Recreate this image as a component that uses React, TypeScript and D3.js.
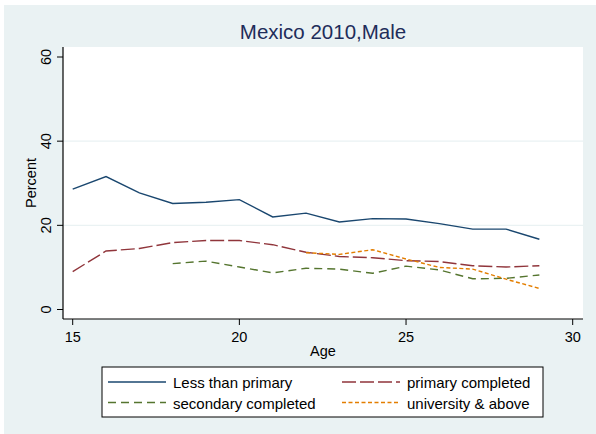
import * as d3 from 'd3';

const ages = [15, 16, 17, 18, 19, 20, 21, 22, 23, 24, 25, 26, 27, 28, 29];
const lessThanPrimary = [28.6, 31.6, 27.7, 25.2, 25.5, 26.1, 22.0, 22.9, 20.8, 21.6, 21.5, 20.4, 19.1, 19.1, 16.7];
const primaryCompleted = [9.0, 13.9, 14.5, 15.9, 16.4, 16.4, 15.4, 13.6, 12.6, 12.3, 11.6, 11.4, 10.4, 10.1, 10.4];
const secondaryCompleted = [null, null, null, 10.9, 11.5, 10.1, 8.7, 9.8, 9.6, 8.6, 10.3, 9.4, 7.3, 7.4, 8.2];
const universityAbove = [null, null, null, null, null, null, null, 13.5, 13.1, 14.2, 12.0, 10.0, 9.6, 7.2, 5.0];
const xTicks = [15, 20, 25, 30];
const yTicks = [0, 20, 40, 60];

const series = [
  { name: 'Less than primary', values: lessThanPrimary, color: '#1a476f', dash: '' },
  { name: 'primary completed', values: primaryCompleted, color: '#90353b', dash: '14,4' },
  { name: 'secondary completed', values: secondaryCompleted, color: '#55752f', dash: '8,5' },
  { name: 'university & above', values: universityAbove, color: '#e37e00', dash: '4,2.5' },
];

const W = 596;
const H = 434;
const plot = { left: 63, top: 47, right: 583, bottom: 319 };

export default function App() {
  const x = d3.scaleLinear().domain([15, 30]).range([72.7, 572.7]);
  const y = d3.scaleLinear().domain([0, 60]).range([309.5, 57]);

  const line = d3
    .line<number | null>()
    .defined(d => d != null)
    .x((d, i) => x(ages[i]))
    .y(d => y(d as number));

  const font = '"Liberation Sans", Arial, sans-serif';

  // legend layout
  const legend = { x: 102, y: 367, w: 441, h: 50 };
  const cols = [108, 342];
  const rows = [382, 402.5];

  return (
    <svg
      width={W}
      height={H}
      style={{ position: 'absolute', left: 0, top: 0 }}
      fontFamily={font}
    >
      <rect x={0} y={0} width={W} height={H} fill="#ffffff" />
      <rect x={4} y={5} width={W - 4} height={H - 5} fill="#eaf2f3" />
      <rect
        x={plot.left}
        y={plot.top}
        width={plot.right - plot.left}
        height={plot.bottom - plot.top}
        fill="#ffffff"
      />

      {/* grid */}
      {yTicks
        .filter(t => t > 0 && t < 60)
        .map(t => (
          <line
            key={'g' + t}
            x1={plot.left}
            x2={plot.right}
            y1={y(t)}
            y2={y(t)}
            stroke="#eaf2f3"
            strokeWidth={1.2}
          />
        ))}

      {/* series */}
      {series.map(s => (
        <path
          key={s.name}
          d={line(s.values) || ''}
          fill="none"
          stroke={s.color}
          strokeWidth={1.4}
          strokeDasharray={s.dash || undefined}
        />
      ))}

      {/* axes */}
      <line x1={plot.left} x2={plot.left} y1={plot.top} y2={plot.bottom} stroke="#000" strokeWidth={1.2} />
      <line x1={plot.left} x2={plot.right} y1={plot.bottom} y2={plot.bottom} stroke="#000" strokeWidth={1.2} />

      {yTicks.map(t => (
        <g key={'y' + t}>
          <line x1={57} x2={plot.left} y1={y(t)} y2={y(t)} stroke="#000" strokeWidth={1} />
          <text
            transform={`translate(51,${y(t)}) rotate(-90)`}
            textAnchor="middle"
            fontSize={14.5}
            fill="#000"
          >
            {t}
          </text>
        </g>
      ))}

      {xTicks.map(t => (
        <g key={'x' + t}>
          <line x1={x(t)} x2={x(t)} y1={plot.bottom} y2={325} stroke="#000" strokeWidth={1} />
          <text x={x(t)} y={341.5} textAnchor="middle" fontSize={14.5} fill="#000">
            {t}
          </text>
        </g>
      ))}

      <text
        transform={`translate(36,${(plot.top + plot.bottom) / 2}) rotate(-90)`}
        textAnchor="middle"
        fontSize={14.5}
        fill="#000"
      >
        Percent
      </text>
      <text x={(plot.left + plot.right) / 2} y={356} textAnchor="middle" fontSize={14.5} fill="#000">
        Age
      </text>

      <text x={323} y={39} textAnchor="middle" fontSize={20.5} fill="#1e2d5a">
        Mexico 2010,Male
      </text>

      {/* legend */}
      <rect
        x={legend.x}
        y={legend.y}
        width={legend.w}
        height={legend.h}
        fill="#ffffff"
        stroke="#000"
        strokeWidth={1}
      />
      {series.map((s, i) => {
        const cx = cols[i % 2];
        const cy = rows[Math.floor(i / 2)];
        return (
          <g key={'l' + s.name}>
            <line
              x1={cx}
              x2={cx + 58}
              y1={cy}
              y2={cy}
              stroke={s.color}
              strokeWidth={1.4}
              strokeDasharray={s.dash || undefined}
            />
            <text x={cx + 65} y={cy + 6} fontSize={15} fill="#000">
              {s.name}
            </text>
          </g>
        );
      })}
    </svg>
  );
}
